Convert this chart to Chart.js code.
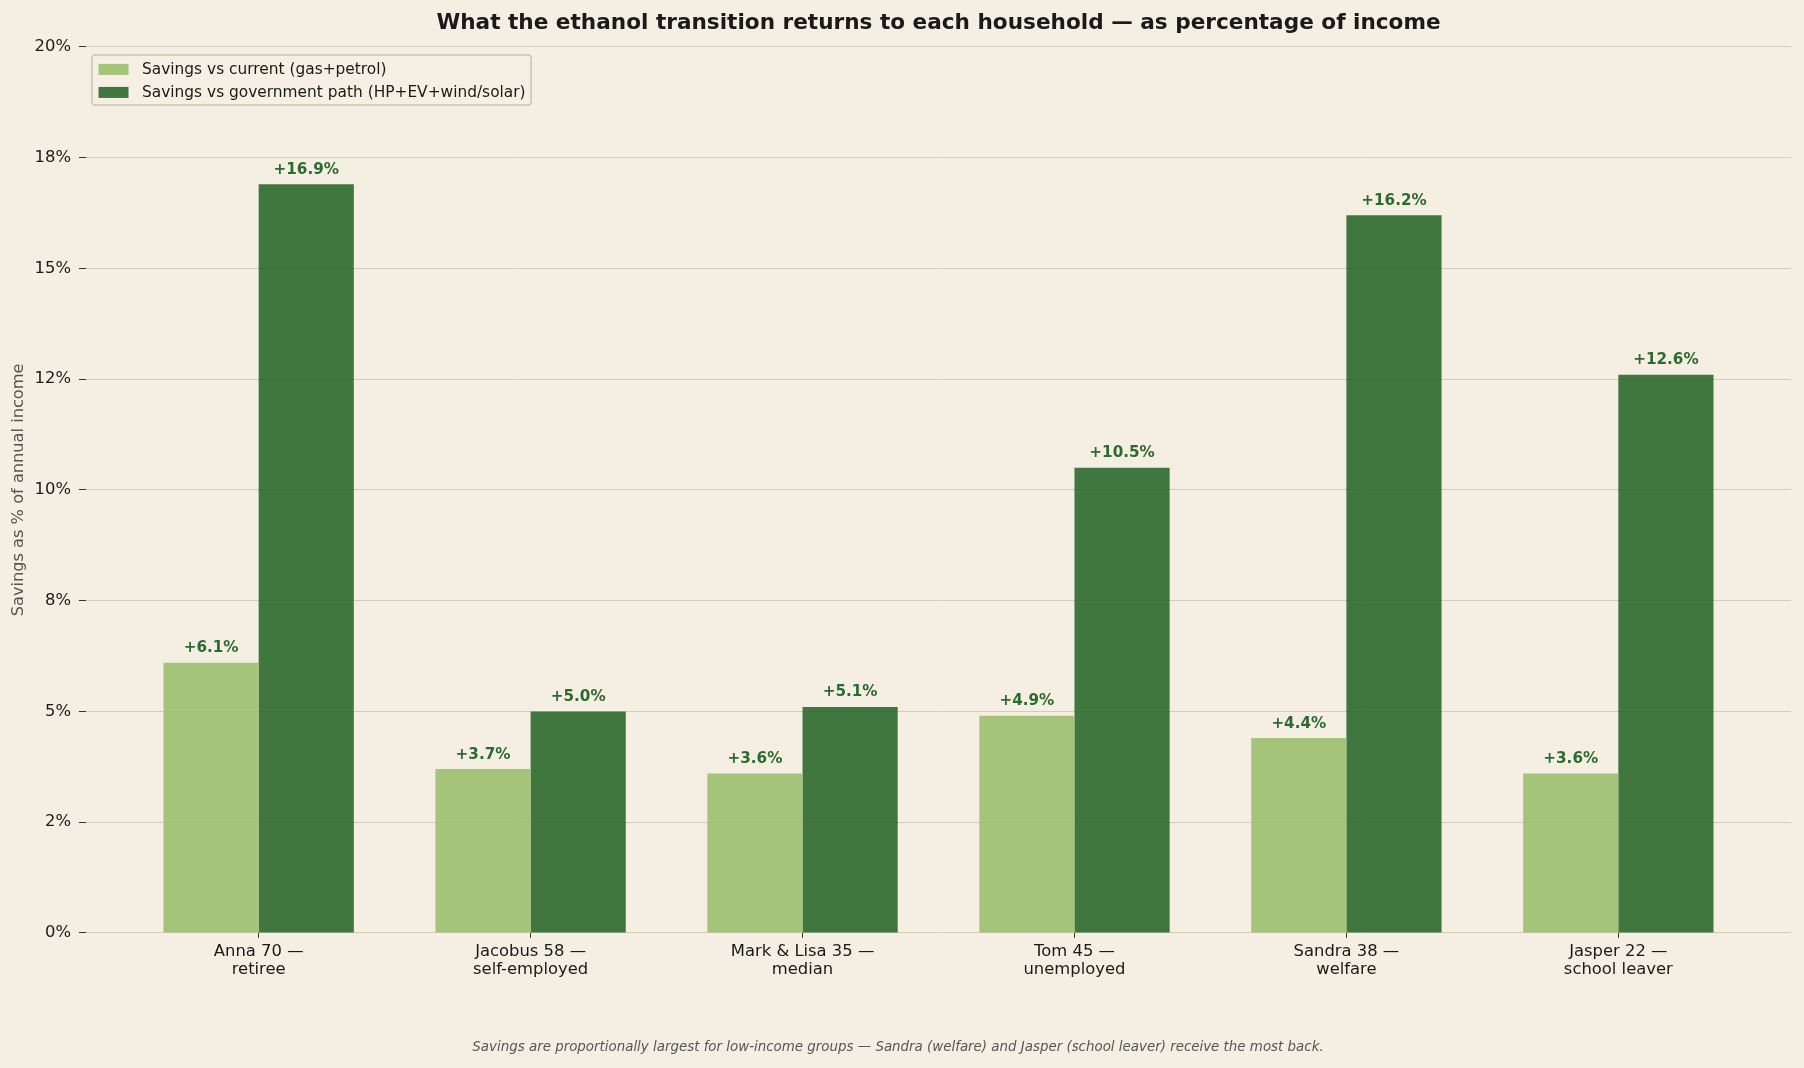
<!DOCTYPE html>
<html>
<head>
<meta charset="utf-8">
<script src="https://cdn.jsdelivr.net/npm/chart.js@4"></script>
<style>
  body { margin: 0; background: #f5efe3; }
  #wrap { width: 1804px; height: 1068px; position: relative; }
</style>
</head>
<body>
<div id="wrap"><canvas id="myChart"></canvas></div>
<script>
// data
const categories = ['Anna 70 —\nretiree', 'Jacobus 58 —\nself-employed', 'Mark & Lisa 35 —\nmedian',
    'Tom 45 —\nunemployed', 'Sandra 38 —\nwelfare', 'Jasper 22 —\nschool leaver'];
const savingsCurrent = [6.1, 3.7, 3.6, 4.9, 4.4, 3.6];
const savingsGovPath = [16.9, 5.0, 5.1, 10.5, 16.2, 12.6];
const seriesNames = ['Savings vs current (gas+petrol)', 'Savings vs government path (HP+EV+wind/solar)'];
const yTickValues = [0, 2.5, 5, 7.5, 10, 12.5, 15, 17.5, 20];
const yTickLabels = ['0%', '2%', '5%', '8%', '10%', '12%', '15%', '18%', '20%'];

const BG = '#f5efe3';
const FONT = "'DejaVu Sans', sans-serif";
const lightGreen = 'rgba(155,191,110,0.9)';
const darkGreen = 'rgba(44,105,44,0.9)';

// paint the figure background
const bgPlugin = {
    id: 'bg',
    beforeDraw(chart) {
        const c = chart.ctx;
        c.save();
        c.fillStyle = BG;
        c.fillRect(0, 0, chart.width, chart.height);
        c.restore();
    }
};

// "+x.x%" above every bar
const valueLabels = {
    id: 'valueLabels',
    afterDatasetsDraw(chart) {
        const c = chart.ctx;
        c.save();
        c.font = 'bold 15.2px ' + FONT;
        c.fillStyle = '#2d6a2d';
        c.textAlign = 'center';
        c.textBaseline = 'alphabetic';
        chart.data.datasets.forEach((ds, di) => {
            chart.getDatasetMeta(di).data.forEach((bar, i) => {
                c.fillText('+' + ds.data[i].y.toFixed(1) + '%', bar.x, bar.y - 10.5);
            });
        });
        c.restore();
    }
};

// legend box inside the plot, upper left
const insideLegend = {
    id: 'insideLegend',
    afterDraw(chart) {
        const c = chart.ctx;
        const area = chart.chartArea;
        const x = area.left + 6, y = area.top + 8, w = 439, h = 50;
        c.save();
        c.beginPath();
        c.roundRect(x, y, w, h, 3);
        c.fillStyle = 'rgba(245,239,227,0.8)';
        c.fill();
        c.lineWidth = 1.5;
        c.strokeStyle = '#cdc5b3';
        c.stroke();
        c.font = '15.4px ' + FONT;
        c.textBaseline = 'middle';
        c.textAlign = 'left';
        chart.data.datasets.forEach((ds, i) => {
            const rowY = y + 14.5 + i * 23;
            c.fillStyle = ds.backgroundColor;
            c.fillRect(x + 6.5, rowY - 5.5, 30, 11);
            c.fillStyle = '#1a1a1a';
            c.fillText(ds.label, x + 50, rowY + 1);
        });
        c.restore();
    }
};

const ctx = document.getElementById('myChart').getContext('2d');

const myChart = new Chart(ctx, {
    type: 'bar',
    data: {
        datasets: [
            {
                label: seriesNames[0],
                data: savingsCurrent.map((v, i) => ({ x: i, y: v })),
                backgroundColor: lightGreen,
                borderWidth: 0
            },
            {
                label: seriesNames[1],
                data: savingsGovPath.map((v, i) => ({ x: i, y: v })),
                backgroundColor: darkGreen,
                borderWidth: 0
            }
        ]
    },
    options: {
        responsive: true,
        maintainAspectRatio: false,
        animation: false,
        devicePixelRatio: 1,
        categoryPercentage: 0.7,
        barPercentage: 1.0,
        layout: { padding: { left: 5, right: 13, top: 1, bottom: 0 } },
        plugins: {
            legend: { display: false },
            tooltip: { enabled: false },
            title: {
                display: true,
                text: 'What the ethanol transition returns to each household — as percentage of income',
                fullSize: false,
                color: '#1a1a1a',
                font: { family: FONT, size: 21.6, weight: 'bold', lineHeight: 1.2 },
                padding: { top: 9, bottom: 11 }
            },
            subtitle: {
                display: true,
                position: 'bottom',
                text: 'Savings are proportionally largest for low-income groups — Sandra (welfare) and Jasper (school leaver) receive the most back.',
                color: '#555555',
                font: { family: FONT, size: 13.4, style: 'italic', lineHeight: 1.2 },
                padding: { top: 10, bottom: 12 }
            }
        },
        scales: {
            x: {
                type: 'linear',
                min: -0.635,
                max: 5.635,
                offset: false,
                border: { display: false },
                grid: { offset: false, drawOnChartArea: false, tickColor: '#333333', tickLength: 5 },
                afterBuildTicks(axis) {
                    axis.ticks = categories.map((c, i) => ({ value: i }));
                },
                afterFit(axis) { axis.height = 97; },
                ticks: {
                    autoSkip: false,
                    maxRotation: 0,
                    padding: 5,
                    color: '#1a1a1a',
                    font: { family: FONT, size: 16.4, lineHeight: 1.1 },
                    callback: (v) => categories[v] ? categories[v].split('\n') : ''
                }
            },
            y: {
                min: 0,
                max: 20,
                border: { display: false },
                grid: { color: '#d3cbbd', lineWidth: 1, tickColor: '#333333', tickLength: 7 },
                afterBuildTicks(axis) {
                    axis.ticks = yTickValues.map(v => ({ value: v }));
                },
                afterFit(axis) { axis.width = 81; },
                ticks: {
                    padding: 8,
                    color: '#1a1a1a',
                    font: { family: FONT, size: 16.4 },
                    callback: (v, i) => yTickLabels[i]
                },
                title: {
                    display: true,
                    text: 'Savings as % of annual income',
                    color: '#555555',
                    font: { family: FONT, size: 16.2 },
                    padding: { top: 4, bottom: 0 }
                }
            }
        }
    },
    plugins: [bgPlugin, valueLabels, insideLegend]
});
</script>
</body>
</html>
